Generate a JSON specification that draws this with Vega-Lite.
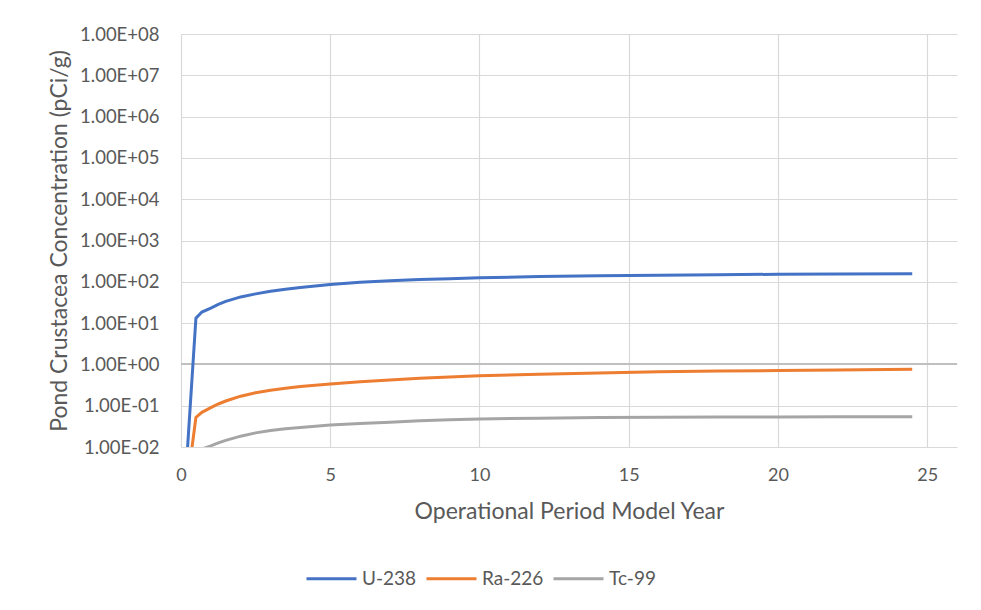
{
  "$schema": "https://vega.github.io/schema/vega-lite/v6.json",
  "autosize": {"type": "none"},
  "width": 776,
  "height": 413,
  "padding": {"left": 181, "top": 34, "right": 24, "bottom": 163},
  "background": "white",
  "config": {
    "font": "Lato",
    "view": {"stroke": null},
    "axis": {"labelColor": "#595959", "titleColor": "#595959", "labelFont": "Lato", "titleFont": "Lato", "titleFontWeight": "normal", "gridColor": "#d9d9d9", "gridWidth": 1.2, "ticks": false, "tickSize": 0, "domain": false, "labelFlush": false},
    "legend": {"labelColor": "#595959", "labelFont": "Lato"}
  },
  "data": {
    "values": [
      {"year": 0, "nuclide": "U-238", "conc": 0.000034},
      {"year": 0.5, "nuclide": "U-238", "conc": 13.2},
      {"year": 0.7, "nuclide": "U-238", "conc": 18.5},
      {"year": 1.0, "nuclide": "U-238", "conc": 23},
      {"year": 1.25, "nuclide": "U-238", "conc": 28.5},
      {"year": 1.5, "nuclide": "U-238", "conc": 33.5},
      {"year": 2.0, "nuclide": "U-238", "conc": 43},
      {"year": 2.5, "nuclide": "U-238", "conc": 51},
      {"year": 3.0, "nuclide": "U-238", "conc": 59},
      {"year": 3.5, "nuclide": "U-238", "conc": 66},
      {"year": 4.0, "nuclide": "U-238", "conc": 73},
      {"year": 5.0, "nuclide": "U-238", "conc": 86},
      {"year": 6.0, "nuclide": "U-238", "conc": 97},
      {"year": 7.0, "nuclide": "U-238", "conc": 106},
      {"year": 8.0, "nuclide": "U-238", "conc": 113},
      {"year": 9.0, "nuclide": "U-238", "conc": 119},
      {"year": 10.0, "nuclide": "U-238", "conc": 125},
      {"year": 12.0, "nuclide": "U-238", "conc": 134},
      {"year": 14.0, "nuclide": "U-238", "conc": 140},
      {"year": 16.0, "nuclide": "U-238", "conc": 145},
      {"year": 18.0, "nuclide": "U-238", "conc": 149},
      {"year": 20.0, "nuclide": "U-238", "conc": 152},
      {"year": 22.0, "nuclide": "U-238", "conc": 154},
      {"year": 24.5, "nuclide": "U-238", "conc": 156},
      {"year": 0, "nuclide": "Ra-226", "conc": 0.00009},
      {"year": 0.5, "nuclide": "Ra-226", "conc": 0.052},
      {"year": 0.7, "nuclide": "Ra-226", "conc": 0.069},
      {"year": 1.0, "nuclide": "Ra-226", "conc": 0.09},
      {"year": 1.25, "nuclide": "Ra-226", "conc": 0.11},
      {"year": 1.5, "nuclide": "Ra-226", "conc": 0.13},
      {"year": 2.0, "nuclide": "Ra-226", "conc": 0.17},
      {"year": 2.5, "nuclide": "Ra-226", "conc": 0.205},
      {"year": 3.0, "nuclide": "Ra-226", "conc": 0.237},
      {"year": 3.5, "nuclide": "Ra-226", "conc": 0.265},
      {"year": 4.0, "nuclide": "Ra-226", "conc": 0.29},
      {"year": 5.0, "nuclide": "Ra-226", "conc": 0.335},
      {"year": 6.0, "nuclide": "Ra-226", "conc": 0.38},
      {"year": 7.0, "nuclide": "Ra-226", "conc": 0.42},
      {"year": 8.0, "nuclide": "Ra-226", "conc": 0.46},
      {"year": 9.0, "nuclide": "Ra-226", "conc": 0.495},
      {"year": 10.0, "nuclide": "Ra-226", "conc": 0.53},
      {"year": 12.0, "nuclide": "Ra-226", "conc": 0.58},
      {"year": 14.0, "nuclide": "Ra-226", "conc": 0.62},
      {"year": 16.0, "nuclide": "Ra-226", "conc": 0.66},
      {"year": 18.0, "nuclide": "Ra-226", "conc": 0.69},
      {"year": 20.0, "nuclide": "Ra-226", "conc": 0.71},
      {"year": 22.0, "nuclide": "Ra-226", "conc": 0.735},
      {"year": 24.5, "nuclide": "Ra-226", "conc": 0.76},
      {"year": 0, "nuclide": "Tc-99", "conc": 0.0001},
      {"year": 0.5, "nuclide": "Tc-99", "conc": 0.0075},
      {"year": 0.75, "nuclide": "Tc-99", "conc": 0.0092},
      {"year": 1.0, "nuclide": "Tc-99", "conc": 0.0107},
      {"year": 1.25, "nuclide": "Tc-99", "conc": 0.0126},
      {"year": 1.5, "nuclide": "Tc-99", "conc": 0.0145},
      {"year": 2.0, "nuclide": "Tc-99", "conc": 0.0183},
      {"year": 2.5, "nuclide": "Tc-99", "conc": 0.022},
      {"year": 3.0, "nuclide": "Tc-99", "conc": 0.025},
      {"year": 3.5, "nuclide": "Tc-99", "conc": 0.0275},
      {"year": 4.0, "nuclide": "Tc-99", "conc": 0.0295},
      {"year": 5.0, "nuclide": "Tc-99", "conc": 0.034},
      {"year": 6.0, "nuclide": "Tc-99", "conc": 0.037},
      {"year": 7.0, "nuclide": "Tc-99", "conc": 0.04},
      {"year": 8.0, "nuclide": "Tc-99", "conc": 0.043},
      {"year": 9.0, "nuclide": "Tc-99", "conc": 0.0455},
      {"year": 10.0, "nuclide": "Tc-99", "conc": 0.0475},
      {"year": 12.0, "nuclide": "Tc-99", "conc": 0.05},
      {"year": 14.0, "nuclide": "Tc-99", "conc": 0.0515},
      {"year": 16.0, "nuclide": "Tc-99", "conc": 0.0525},
      {"year": 18.0, "nuclide": "Tc-99", "conc": 0.053},
      {"year": 20.0, "nuclide": "Tc-99", "conc": 0.0535},
      {"year": 22.0, "nuclide": "Tc-99", "conc": 0.054},
      {"year": 24.5, "nuclide": "Tc-99", "conc": 0.054}
    ]
  },
  "encoding": {
    "x": {
      "field": "year", "type": "quantitative",
      "scale": {"domain": [0, 26], "nice": false, "zero": false},
      "axis": {"values": [0, 5, 10, 15, 20, 25], "title": "Operational Period Model Year", "labelFontSize": 18, "titleFontSize": 23, "labelPadding": 19, "titlePadding": 16, "grid": true}
    },
    "y": {
      "field": "conc", "type": "quantitative",
      "scale": {"type": "log", "domain": [0.01, 100000000], "nice": false},
      "axis": {
        "values": [0.01, 0.1, 1, 10, 100, 1000, 10000, 100000, 1000000, 10000000, 100000000],
        "labelExpr": "'1.00E' + (datum.value >= 1 ? '+' : '-') + (abs(round(log(datum.value)/LN10)) < 10 ? '0' : '') + abs(round(log(datum.value)/LN10))",
        "title": "Pond Crustacea Concentration (pCi/g)", "labelFontSize": 18.5, "titleFontSize": 23, "labelPadding": 22, "titlePadding": 8, "grid": true
      }
    }
  },
  "layer": [
    {
      "mark": {"type": "rule", "color": "#bfbfbf", "strokeWidth": 1.3},
      "encoding": {"y": {"datum": 1}, "x": null}
    },
    {
      "mark": {"type": "line", "strokeWidth": 3, "clip": true},
      "encoding": {
        "color": {
          "field": "nuclide", "type": "nominal",
          "scale": {"domain": ["U-238", "Ra-226", "Tc-99"], "range": ["#4472C4", "#ED7D31", "#A5A5A5"]},
          "legend": {"title": null, "orient": "none", "direction": "horizontal", "legendX": 124, "legendY": 518, "symbolType": "stroke", "symbolSize": 2500, "symbolStrokeWidth": 3, "labelFontSize": 19, "labelOffset": 4, "columnPadding": 3}
        }
      }
    }
  ]
}
